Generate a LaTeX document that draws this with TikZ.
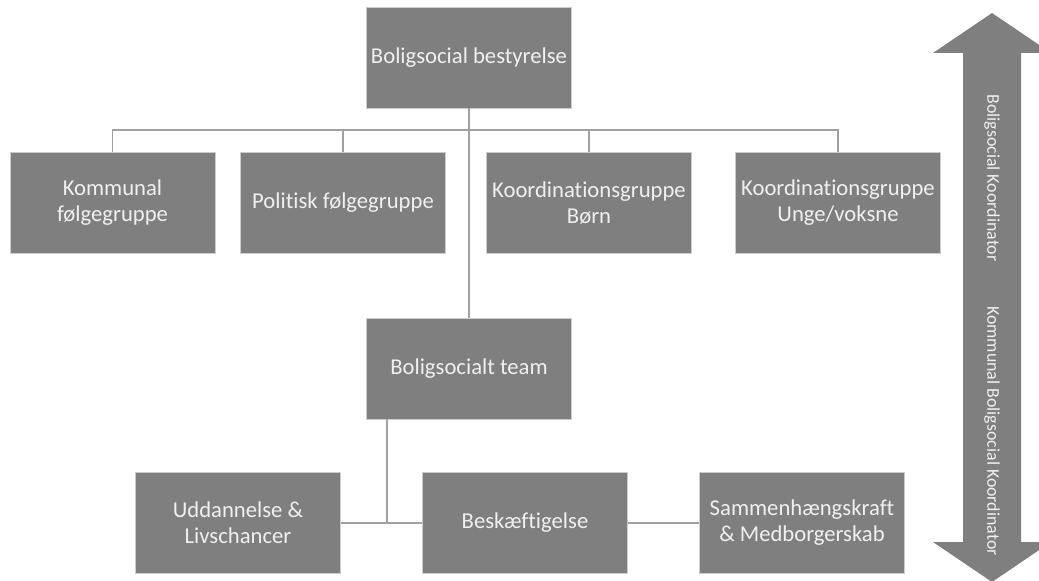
\documentclass[tikz,border=0pt]{standalone}
\usepackage{fontspec}
\setmainfont{Carlito}[Ligatures={NoCommon}]
\definecolor{boxgray}{HTML}{7F7F7F}
\definecolor{linegray}{HTML}{A0A0A0}
\begin{document}
\begin{tikzpicture}[x=0.75pt, y=-0.75pt,
        unit/.style={rectangle, draw=gray!40, fill=boxgray, text=white!94!black,
            minimum width=153.75pt, minimum height=75.75pt, inner sep=2pt,
            align=center, font=\fontsize{17}{19.5}\selectfont},
        link/.style={draw=linegray, line width=1.1pt},
        tag/.style={rotate=-90, text=white!94!black, font=\fontsize{13.4}{15}\selectfont}]
            \clip (0, 0) rectangle (1039, 581);
            \node (board) at (469, 57.5) [unit] {Boligsocial bestyrelse};
            \node (kfg) at (112.5, 202.5) [unit] {Kommunal\\følgegruppe};
            \node (pfg) at (343, 202.5) [unit] {Politisk følgegruppe};
            \node (kgb) at (589, 203) [unit] {Koordinationsgruppe\\Børn};
            \node (kgu) at (838, 203) [unit] {Koordinationsgruppe\\Unge/voksne};
            \node (team) at (469, 368.5) [unit] {Boligsocialt team};
            \node (udd) at (238, 523) [unit] {Uddannelse \&\\Livschancer};
            \node (besk) at (525, 523) [unit] {Beskæftigelse};
            \node (samm) at (802, 523) [unit] {Sammenhængskraft\\\& Medborgerskab};
            \coordinate (bus) at (469, 130);
            \coordinate (tap) at (387, 523);
            \draw [link] (board) -- (team);
            \draw [link] (kfg.north) |- (bus) -| (kgu.north);
            \foreach \g in {pfg, kgb}
                \draw [link] (\g.north) -- (\g.north |- bus);
            \draw [link] (team.south -| tap) -- (tap);
            \draw [link] (udd) -- (besk);
            \draw [link] (besk) -- (samm);
            % double arrow on the right
            \fill [boxgray] (992, 13) -- (1051, 53) -- (1021, 53) -- (1021, 542)
                -- (1051, 542) -- (992, 582) -- (933, 542) -- (963, 542)
                -- (963, 53) -- (933, 53) -- cycle;
            \node (upper) at (992, 178) [tag] {Boligsocial Koordinator};
            \node (lower) at (992, 431) [tag] {Kommunal Boligsocial Koordinator};
        \end{tikzpicture}
\end{document}
